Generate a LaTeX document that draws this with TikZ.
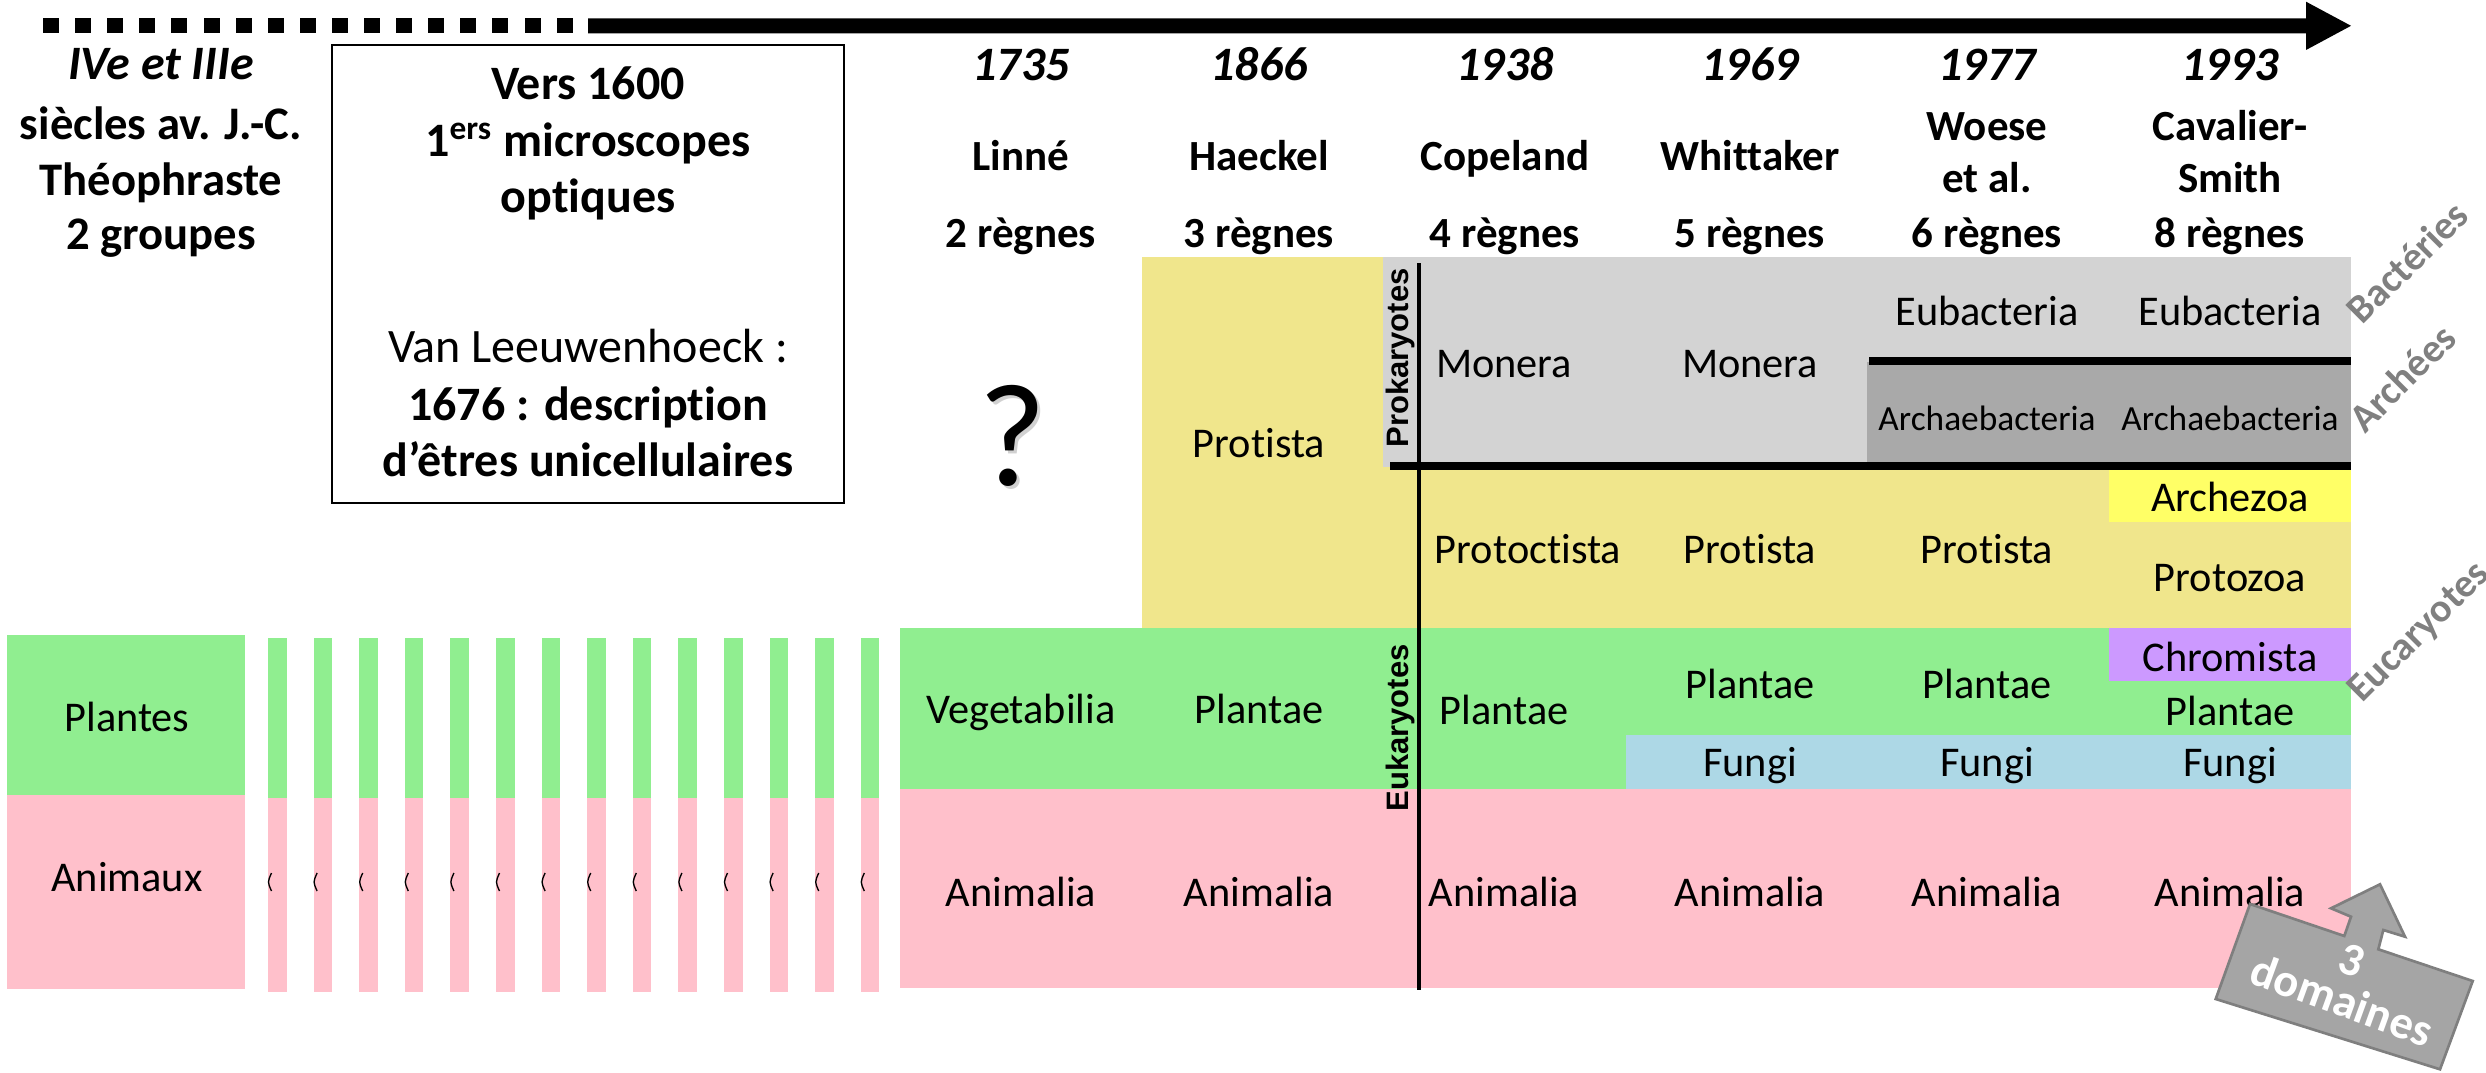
\documentclass[tikz,border=0pt]{standalone}
\usepackage{fontspec}
\setmainfont{Carlito}[Ligatures={NoCommon}]
\newfontfamily\arialf{Liberation Sans}
\definecolor{cgreen}{HTML}{90EE90}
\definecolor{cpink}{HTML}{FFC0CB}
\definecolor{ckhaki}{HTML}{F0E68C}
\definecolor{cgray}{HTML}{D3D3D3}
\definecolor{cdgray}{HTML}{A9A9A9}
\definecolor{cblue}{HTML}{ADD8E6}
\definecolor{cyellow}{HTML}{FFFF66}
\definecolor{cpurple}{HTML}{CC99FF}
\definecolor{labgray}{HTML}{808080}
\definecolor{darr}{HTML}{A5A5A5}
\definecolor{darrline}{HTML}{7F7F7F}
\begin{document}
\begin{tikzpicture}[x=0.3pt,y=-0.3pt,
  txt/.style={inner sep=0pt, font=\fontsize{12.7}{15}\selectfont, anchor=base},
  small/.style={inner sep=0pt, font=\fontsize{10.6}{12}\selectfont, anchor=base},
  hd/.style={inner sep=0pt, font=\bfseries\fontsize{12.9}{15}\selectfont, anchor=base},
  lhd/.style={inner sep=0pt, font=\bfseries\fontsize{14}{16}\selectfont, anchor=base},
  bhd/.style={inner sep=0pt, font=\bfseries\fontsize{14.4}{16}\selectfont, anchor=base},
  btx/.style={inner sep=0pt, font=\fontsize{14.4}{16}\selectfont, anchor=base},
  yr/.style={inner sep=0pt, font=\bfseries\itshape\fontsize{14.4}{16}\selectfont, anchor=base},
  glab/.style={inner sep=0pt, font=\bfseries\fontsize{12}{14}\selectfont, text=labgray, rotate=45},
  eplab/.style={inner sep=0pt, font=\arialf\bfseries\fontsize{9.3}{11}\selectfont, rotate=90},
  dom/.style={inner sep=0pt, font=\bfseries\fontsize{14}{16}\selectfont, text=white, rotate=-20},
  qmark/.style={inner sep=0pt, anchor=base, font=\fontsize{44}{46}\selectfont},
  thick line/.style={line width=2.4pt},
]
\useasboundingbox (0,0) rectangle (2486,1073);

% ---------- timeline arrow ----------
\foreach \i in {0,...,16}{
  \fill ({43+\i*32.1},18.3) rectangle ++(16,15);
}
\fill (588,18.3) -- (2306,18.3) -- (2306,1.7) -- (2351,25.8) -- (2306,50) -- (2306,33.3) -- (588,33.3) -- cycle;

% ---------- left block (2 groupes) ----------
\fill[cgreen] (7,635) rectangle (245,795);
\fill[cpink] (7,795) rectangle (245,989);
\foreach \i in {0,...,13}{
  \fill[cgreen] ({268+\i*45.6},638) rectangle ++(18.5,160);
  \fill[cpink] ({268+\i*45.6},798) rectangle ++(18.5,194);
  \draw[line width=0.4pt] ({271.5+\i*45.6},873) .. controls ({267.5+\i*45.6},882) .. ({271.5+\i*45.6},891);
}

% ---------- main table ----------
\fill[cgreen] (900,628) rectangle (2351,789);
\fill[cpink] (900,789) rectangle (2351,988);
\fill[ckhaki] (1142,257) rectangle (1383,628);
\fill[ckhaki] (1383,467) rectangle (2351,628);
\fill[cgray] (1383,257) rectangle (2351,467);
\fill[cdgray] (1867,362) rectangle (2351,467);
\fill[cyellow] (2109,467) rectangle (2351,522);
\fill[cpurple] (2109,628) rectangle (2351,681);
\fill[cblue] (1626,735) rectangle (2351,789);
\draw[thick line] (1390,466) -- (2351,466);
\draw[thick line] (1869,361) -- (2351,361);
\draw[line width=1pt] (1419,263) -- (1419,990);

% ---------- box ----------
\node[draw, line width=0.6pt, minimum width=153.6pt, minimum height=137.4pt, inner sep=0pt] (box) at (588,274) {};

% ---------- header texts ----------
\node[yr] (l1) at (161,80) {IVe et IIIe};
\node[lhd] (l2) at (161,140) {siècles av. J.-C.};
\node[lhd] (l3) at (161,195) {Théophraste};
\node[lhd] (l4) at (161,249) {2 groupes};

\node[bhd] (b1) at (588,100) {Vers 1600};
\node[bhd] (b2) at (588,157) {1\textsuperscript{ers} microscopes};
\node[bhd] (b3) at (588,212) {optiques};
\node[btx] (b4) at (588,362) {Van Leeuwenhoeck :};
\node[bhd] (b5) at (588,420) {1676 : description};
\node[bhd] (b6) at (588,476) {d’êtres unicellulaires};

\node[yr] (y1) at (1021,81) {1735};
\node[yr] (y2) at (1259,81) {1866};
\node[yr] (y3) at (1505,81) {1938};
\node[yr] (y4) at (1750,81) {1969};
\node[yr] (y5) at (1987,81) {1977};
\node[yr] (y6) at (2230,81) {1993};

\node[hd] (n1) at (1021,170) {Linné};
\node[hd] (n2) at (1259,170) {Haeckel};
\node[hd] (n3) at (1505,170) {Copeland};
\node[hd] (n4) at (1750,170) {Whittaker};
\node[hd] (n5a) at (1987,141) {Woese};
\node[hd] (n5b) at (1987,193) {et al.};
\node[hd] (n6a) at (2230,141) {Cavalier-};
\node[hd] (n6b) at (2230,193) {Smith};

\node[hd] (r1) at (1021,247) {2 règnes};
\node[hd] (r2) at (1259,247) {3 règnes};
\node[hd] (r3) at (1505,247) {4 règnes};
\node[hd] (r4) at (1750,247) {5 règnes};
\node[hd] (r5) at (1987,247) {6 règnes};
\node[hd] (r6) at (2230,247) {8 règnes};

% ---------- question mark ----------
\node[qmark, text=black!18] (qs) at (1015,488) {?};
\node[qmark] (q) at (1012,485) {?};

% ---------- cell texts ----------
\node[txt] (pl) at (127,731) {Plantes};
\node[txt] (an) at (127,891) {Animaux};

\node[txt] (veg) at (1021,723) {Vegetabilia};
\node[txt] (hpro) at (1259,457) {Protista};
\node[txt] (hpla) at (1259,723) {Plantae};

\node[txt] (mon3) at (1504,377) {Monera};
\node[txt] (mon4) at (1750,377) {Monera};
\node[txt] (eub5) at (1987,325) {Eubacteria};
\node[txt] (eub6) at (2230,325) {Eubacteria};
\node[small] (arc5) at (1987,430) {Archaebacteria};
\node[small] (arc6) at (2230,430) {Archaebacteria};

\node[txt] (pro3) at (1528,563) {Protoctista};
\node[txt] (pro4) at (1750,563) {Protista};
\node[txt] (pro5) at (1987,563) {Protista};
\node[txt] (archz) at (2230,511) {Archezoa};
\node[txt] (protz) at (2230,591) {Protozoa};

\node[txt] (pla3) at (1504,724) {Plantae};
\node[txt] (pla4) at (1750,698) {Plantae};
\node[txt] (pla5) at (1987,698) {Plantae};
\node[txt] (chro) at (2230,671) {Chromista};
\node[txt] (pla6) at (2230,725) {Plantae};
\node[txt] (fun4) at (1750,776) {Fungi};
\node[txt] (fun5) at (1987,776) {Fungi};
\node[txt] (fun6) at (2230,776) {Fungi};

\node[txt] (ani1) at (1021,906) {Animalia};
\node[txt] (ani2) at (1259,906) {Animalia};
\node[txt] (ani3) at (1504,906) {Animalia};
\node[txt] (ani4) at (1750,906) {Animalia};
\node[txt] (ani5) at (1987,906) {Animalia};
\node[txt] (ani6) at (2230,906) {Animalia};

% ---------- vertical labels ----------
\node[eplab] (prok) at (1400,358) {Prokaryotes};
\node[eplab] (euk) at (1400,728) {Eukaryotes};

% ---------- gray rotated labels ----------
\node[glab] (bact) at (2407,262) {Bactéries};
\node[glab] (arch) at (2402,378) {Archées};
\node[glab] (euca) at (2420,633) {Eucaryotes};

% ---------- 3 domaines arrow ----------
\filldraw[fill=darr, draw=darrline, line width=0.8pt, line join=miter]
  (2250,904) -- (2344.3,936) -- (2351,916.7) -- (2331,908.3) -- (2380,884.3)
  -- (2405,936.7) -- (2383.3,930) -- (2378.3,949.3) -- (2472.7,981)
  -- (2440,1069.3) -- (2215.7,999) -- cycle;
\node[dom] (d3) at (2352,960) {3};
\node[dom] (dd) at (2342,1000) {domaines};
\end{tikzpicture}
\end{document}
